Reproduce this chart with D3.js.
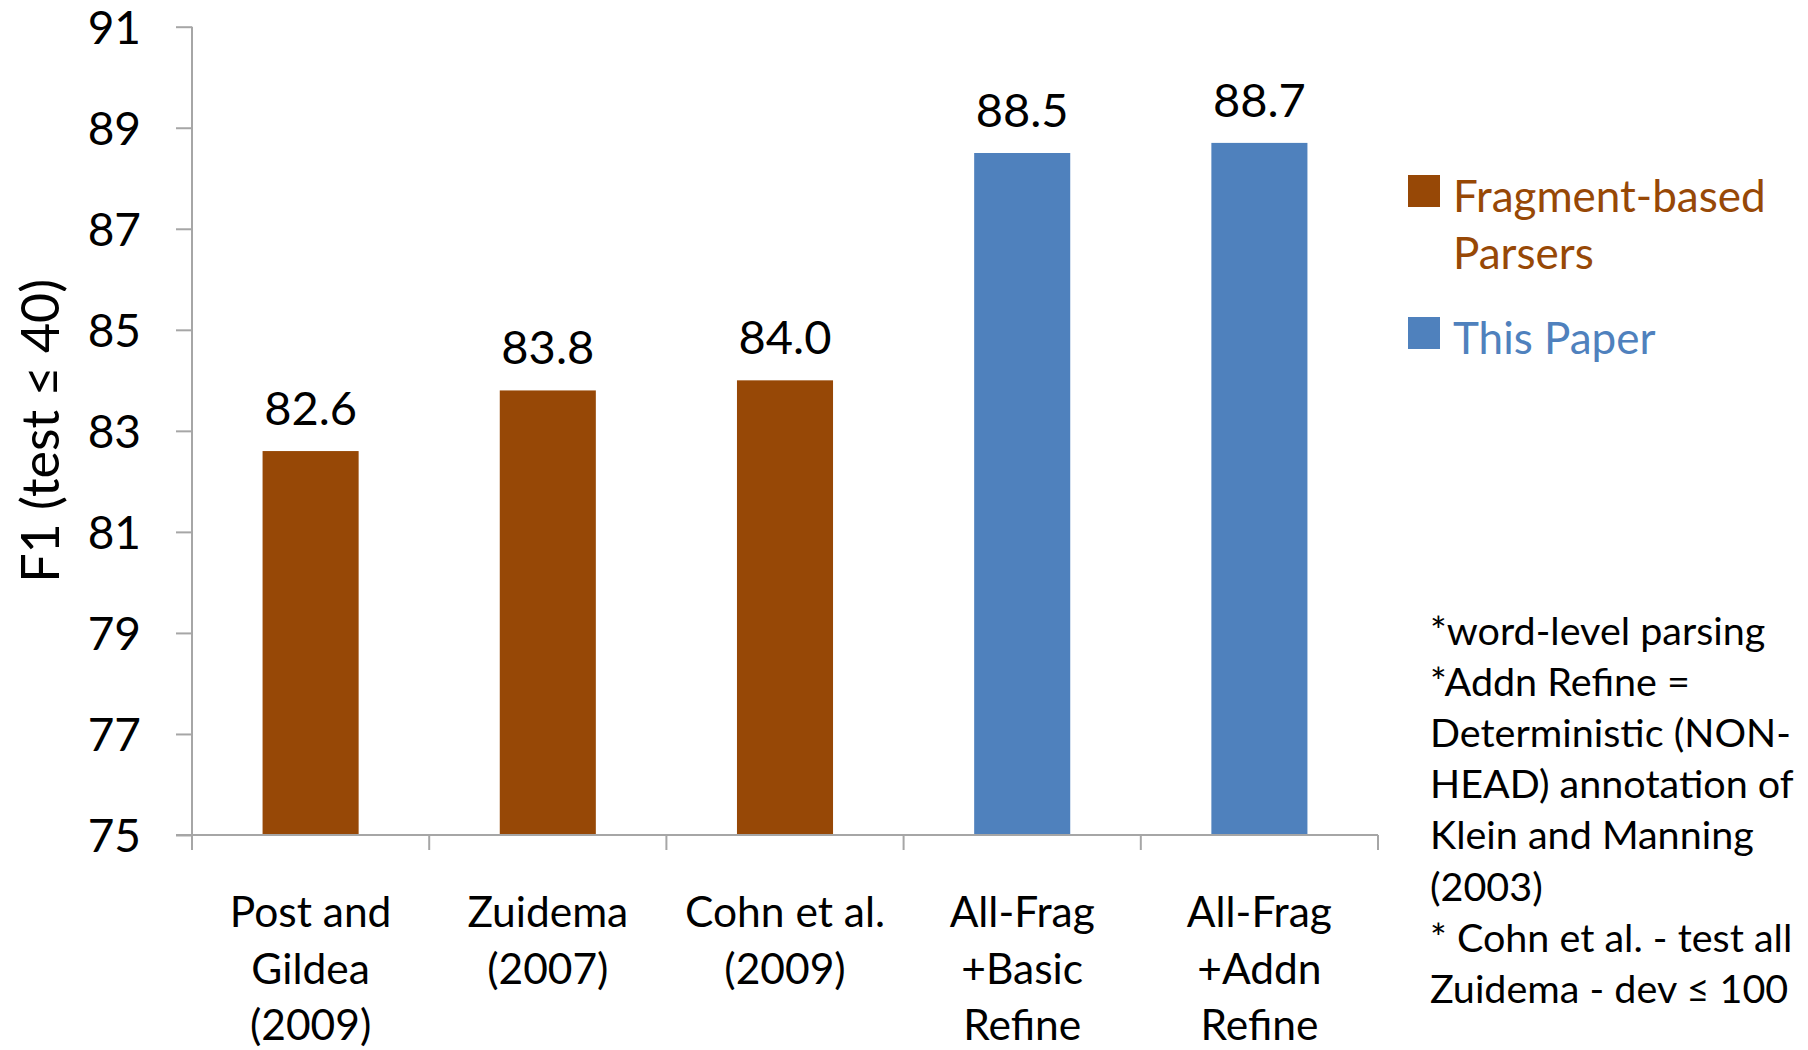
<!DOCTYPE html>
<html>
<head>
<meta charset="utf-8">
<script src="https://cdn.jsdelivr.net/npm/d3@7"></script>
<style>
  html, body { margin: 0; padding: 0; background: #fff; }
  svg { display: block; font-family: Lato, "Open Sans", sans-serif; }
</style>
</head>
<body>
<svg id="chart" width="1808" height="1050"></svg>
<script>
// Parser F1 scores (test sentences ≤ 40 words)
const categories = [
  ["Post and", "Gildea", "(2009)"],
  ["Zuidema", "(2007)"],
  ["Cohn et al.", "(2009)"],
  ["All-Frag", "+Basic", "Refine"],
  ["All-Frag", "+Addn", "Refine"]
];
const f1Values = [82.6, 83.8, 84.0, 88.5, 88.7];
const groups = ["frag", "frag", "frag", "ours", "ours"];
const yTicks = [75, 77, 79, 81, 83, 85, 87, 89, 91];
const legendItems = [
  { key: "frag", lines: ["Fragment-based", "Parsers"] },
  { key: "ours", lines: ["This Paper"] }
];
const noteLines = [
  "*word-level parsing",
  "*Addn Refine =",
  "Deterministic (NON-",
  "HEAD) annotation of",
  "Klein and Manning",
  "(2003)",
  "* Cohn et al. - test all",
  "Zuidema - dev \u2264 100"
];

const colors = { frag: "#974806", ours: "#4F81BD" };
const axisColor = "#a6a6a6";

const svg = d3.select("#chart");
const plotLeft = 192, plotRight = 1378, plotTop = 26.7, plotBottom = 835;

const x = d3.scaleBand()
  .domain(d3.range(categories.length))
  .range([plotLeft, plotRight])
  .paddingInner(0.595)
  .paddingOuter(0.2975);

const y = d3.scaleLinear().domain([75, 91]).range([plotBottom, plotTop]);

// Bars
svg.append("g").selectAll("rect")
  .data(f1Values)
  .join("rect")
  .attr("x", (d, i) => x(i))
  .attr("width", x.bandwidth())
  .attr("y", d => y(d))
  .attr("height", d => y(75) - y(d))
  .attr("fill", (d, i) => colors[groups[i]]);

// Value labels
svg.append("g").selectAll("text")
  .data(f1Values)
  .join("text")
  .attr("x", (d, i) => x(i) + x.bandwidth() / 2)
  .attr("y", d => y(d) - 26)
  .attr("text-anchor", "middle")
  .attr("font-size", 47)
  .attr("fill", "#000")
  .text(d => d.toFixed(1));

// Y axis
const yAxis = svg.append("g")
  .attr("transform", `translate(${plotLeft},0)`)
  .call(d3.axisLeft(y).tickValues(yTicks).tickSize(16).tickPadding(35).tickSizeOuter(0));
yAxis.select(".domain").remove();
yAxis.selectAll(".tick line").attr("stroke", axisColor).attr("stroke-width", 2);
yAxis.selectAll(".tick text")
  .attr("font-size", 46)
  .attr("dy", "0.36em")
  .attr("font-family", "Lato, sans-serif")
  .attr("fill", "#000");
svg.append("line")
  .attr("x1", plotLeft).attr("x2", plotLeft)
  .attr("y1", y(91)).attr("y2", plotBottom + 15)
  .attr("stroke", axisColor).attr("stroke-width", 2);

// X axis line and category boundary ticks
const boundaries = d3.range(categories.length + 1).map(i => plotLeft + i * x.step());
svg.append("line")
  .attr("x1", plotLeft - 16).attr("x2", plotRight)
  .attr("y1", plotBottom).attr("y2", plotBottom)
  .attr("stroke", axisColor).attr("stroke-width", 2);
svg.append("g").selectAll("line")
  .data(boundaries)
  .join("line")
  .attr("x1", d => d).attr("x2", d => d)
  .attr("y1", plotBottom).attr("y2", plotBottom + 15)
  .attr("stroke", axisColor).attr("stroke-width", 2);

// Category labels
const catG = svg.append("g").selectAll("text")
  .data(categories)
  .join("text")
  .attr("text-anchor", "middle")
  .attr("font-size", 42.5)
  .attr("fill", "#000")
  .attr("transform", (d, i) => `translate(${x(i) + x.bandwidth() / 2},0)`);
catG.selectAll("tspan")
  .data(d => d)
  .join("tspan")
  .attr("x", 0)
  .attr("y", (d, j) => 927 + j * 56.7)
  .text(d => d);

// Y axis title
svg.append("text")
  .attr("transform", `translate(59,${(plotTop + plotBottom) / 2}) rotate(-90)`)
  .attr("text-anchor", "middle")
  .attr("font-size", 52)
  .attr("fill", "#000")
  .text("F1 (test \u2264 40)");

// Legend
const legendTops = [175, 317];
const legend = svg.append("g").selectAll("g")
  .data(legendItems)
  .join("g")
  .attr("transform", (d, i) => `translate(1408,${legendTops[i]})`);
legend.append("rect")
  .attr("width", 32).attr("height", 32)
  .attr("fill", d => colors[d.key]);
legend.append("text")
  .attr("font-size", 44)
  .attr("fill", d => colors[d.key])
  .selectAll("tspan")
  .data(d => d.lines)
  .join("tspan")
  .attr("x", 45)
  .attr("y", (d, j) => 37 + j * 57)
  .text(d => d);

// Notes
svg.append("text")
  .attr("font-size", 39.5)
  .attr("fill", "#000")
  .selectAll("tspan")
  .data(noteLines)
  .join("tspan")
  .attr("x", 1430)
  .attr("y", (d, j) => 645 + j * 51.1)
  .text(d => d);
</script>
</body>
</html>
